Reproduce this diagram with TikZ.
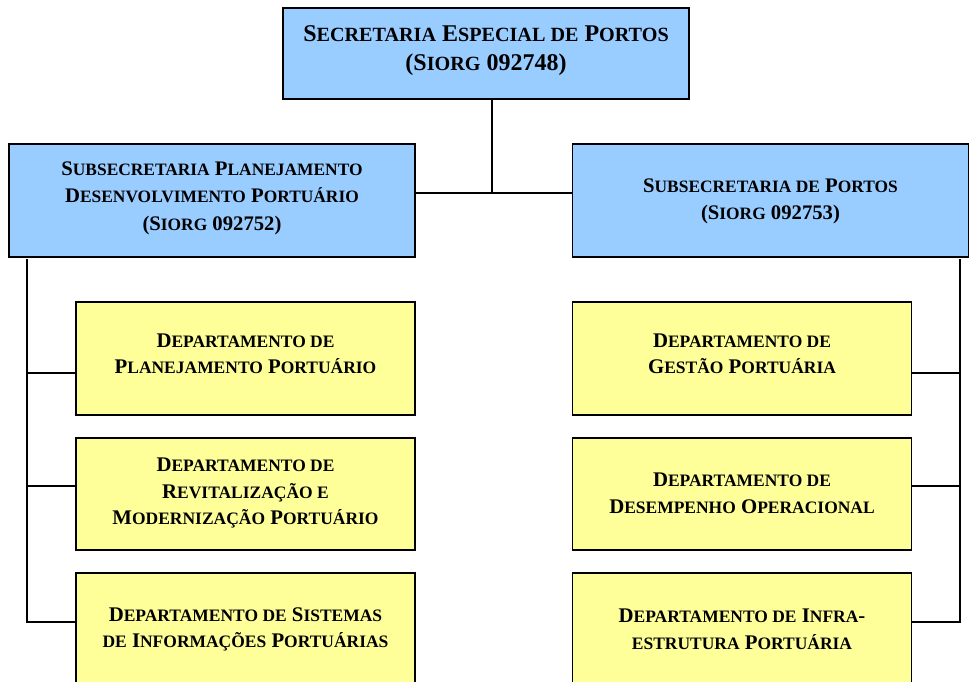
\documentclass[tikz,border=0pt]{standalone}
\usepackage{fontspec}
\usepackage{graphicx}
\setmainfont{Liberation Serif}
\definecolor{boxblue}{HTML}{99CCFF}
\definecolor{boxyellow}{HTML}{FFFF99}
\newcommand\sm[1]{\scalebox{0.84}{#1}}
\tikzset{
  box/.style={draw=black, line width=1.6pt, inner sep=0pt, align=center, font=\bfseries},
  topbox/.style={box, fill=boxblue, minimum width=406pt, minimum height=91pt, font=\bfseries\fontsize{24}{29.5}\selectfont},
  subbox/.style={box, fill=boxblue, minimum height=113pt, font=\bfseries\fontsize{20.7}{27.5}\selectfont},
  deptbox/.style={box, fill=boxyellow, minimum width=339pt, font=\bfseries\fontsize{20.8}{26.5}\selectfont},
  conn/.style={line width=1.4pt, line cap=rect}
}
\begin{document}
\begin{tikzpicture}[x=1pt,y=-1pt]
\useasboundingbox (0,0) rectangle (969,681);
\node[topbox, text depth=11pt] (top) at (486,53.5) {S\sm{ECRETARIA} E\sm{SPECIAL DE} P\sm{ORTOS}\\(S\sm{IORG} 092748)};
\node[subbox, minimum width=406pt, text depth=9.5pt] (ls) at (212,200.5) {S\sm{UBSECRETARIA} P\sm{LANEJAMENTO}\\D\sm{ESENVOLVIMENTO} P\sm{ORTUÁRIO}\\(S\sm{IORG} 092752)};
\node[subbox, minimum width=396pt, text depth=2.5pt] (rs) at (770.5,200.5) {S\sm{UBSECRETARIA DE} P\sm{ORTOS}\\(S\sm{IORG} 092753)};
\node[deptbox, minimum height=113pt, text depth=9.3pt] (ld1) at (245.5,358.5) {D\sm{EPARTAMENTO DE}\\P\sm{LANEJAMENTO} P\sm{ORTUÁRIO}};
\node[deptbox, minimum height=112pt, text depth=5.3pt] (ld2) at (245.5,494) {D\sm{EPARTAMENTO DE}\\R\sm{EVITALIZAÇÃO E}\\M\sm{ODERNIZAÇÃO} P\sm{ORTUÁRIO}};
\node[deptbox, minimum height=113pt, text depth=4pt] (ld3) at (245.5,629.5) {D\sm{EPARTAMENTO DE} S\sm{ISTEMAS}\\\sm{DE} I\sm{NFORMAÇÕES} P\sm{ORTUÁRIAS}};
\node[deptbox, minimum height=113pt, text depth=9.3pt] (rd1) at (742,358.5) {D\sm{EPARTAMENTO DE}\\G\sm{ESTÃO} P\sm{ORTUÁRIA}};
\node[deptbox, minimum height=112pt, text depth=2pt] (rd2) at (742,494) {D\sm{EPARTAMENTO DE}\\D\sm{ESEMPENHO} O\sm{PERACIONAL}};
\node[deptbox, minimum height=113pt, text depth=1pt] (rd3) at (742,629.5) {D\sm{EPARTAMENTO DE} I\sm{NFRA}-\\\sm{ESTRUTURA} P\sm{ORTUÁRIA}};
% junction coordinates
\coordinate (j) at (492,193);
\coordinate (lsp) at (27,260);
\coordinate (rsp) at (960,260);
\coordinate (b1) at (0,373);
\coordinate (b2) at (0,486);
\coordinate (b3) at (0,622);
% connectors
\draw[conn] (top.south -| j) -- (j);
\draw[conn] (ls.east |- j) -- (rs.west |- j);
\draw[conn] (lsp) -- (lsp |- b3) -- (ld3.west |- b3);
\draw[conn] (lsp |- b1) -- (ld1.west |- b1);
\draw[conn] (lsp |- b2) -- (ld2.west |- b2);
\draw[conn] (rsp) -- (rsp |- b3) -- (rd3.east |- b3);
\draw[conn] (rsp |- b1) -- (rd1.east |- b1);
\draw[conn] (rsp |- b2) -- (rd2.east |- b2);
\end{tikzpicture}
\end{document}
